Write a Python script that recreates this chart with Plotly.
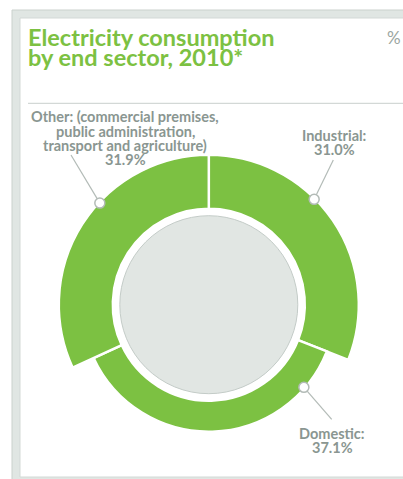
import math
import plotly.graph_objects as go

# ---- data -------------------------------------------------------------
sectors = ["Industrial", "Domestic", "Other"]
shares = [31.0, 37.1, 31.9]          # % of electricity consumption, 2010
label_heads = [
    ["Industrial:"],
    ["Domestic:"],
    ["Other: (commercial premises,", "public administration,",
     "transport and agriculture)"],
]

# ---- layout constants (pixels) -----------------------------------------
W, H = 403, 479
CX, CY = 208.8, 304.7          # ring centre
R_POLAR = 170                  # radial axis range == pixel radius
R_INNER = 96
R_OUTER = {"Industrial": 150, "Domestic": 127, "Other": 150}
R_CORE = 89

GREEN = "#7cc142"
GREY_TXT = "#8a9691"
LEADER = "#b3bbb7"

LABEL_SIZE = 14.5
TITLE_SIZE = 23.5

# where each callout dot sits (degrees clockwise from 12 o'clock)
dot_angle = {"Industrial": 45, "Domestic": 131, "Other": 313}
# leader end points and label centres, pixel coordinates
leader_end = {"Industrial": (333.3, 160), "Domestic": (331.7, 419.3),
              "Other": (71.0, 155.0)}
label_pos = {"Industrial": (334, 140), "Domestic": (332, 438.3),
             "Other": (125, 121.7)}
LINE_STEP = 14.1


def px_to_paper(x, y):
    return x / W, 1 - y / H


def px_to_xy(x, y):
    return x - CX, CY - y


# angular extent of each sector from the shares
widths, centres = [], []
acc = 0.0
for s in shares:
    w = s * 3.6
    widths.append(w)
    centres.append(acc + w / 2)
    acc += w

fig = go.Figure()

# grey core disc
fig.add_trace(go.Barpolar(
    r=[R_CORE], theta=[0], width=[360], base=0,
    marker=dict(color="#e1e6e3", line=dict(color="#c3cbc7", width=1)),
    hoverinfo="skip", showlegend=False,
))

# ring segments
fig.add_trace(go.Barpolar(
    r=[R_OUTER[n] - R_INNER for n in sectors],
    base=[R_INNER] * len(sectors),
    theta=centres, width=widths,
    marker=dict(color=GREEN, line=dict(color="white", width=2.5)),
    text=sectors, hoverinfo="text", showlegend=False,
))

# leader lines (cartesian overlay sharing the same pixel scale)
for n in sectors:
    a = math.radians(dot_angle[n])
    r = R_OUTER[n] - 1
    x0, y0 = r * math.sin(a), r * math.cos(a)
    x1, y1 = px_to_xy(*leader_end[n])
    fig.add_trace(go.Scatter(
        x=[x0, x1], y=[y0, y1], mode="lines",
        line=dict(color=LEADER, width=1.2),
        hoverinfo="skip", showlegend=False,
    ))

# callout dots on the ring edge
fig.add_trace(go.Scatterpolar(
    r=[R_OUTER[n] - 1 for n in sectors],
    theta=[dot_angle[n] for n in sectors],
    mode="markers",
    marker=dict(size=10, color="white", line=dict(color="#b3bbb7", width=1.5)),
    hoverinfo="skip", showlegend=False,
))

annotations = []
for n, s, head in zip(sectors, shares, label_heads):
    lines = head + [f"{s:.1f}%"]
    lx, ly = label_pos[n]
    for i, t in enumerate(lines):
        x, y = px_to_paper(lx, ly + i * LINE_STEP - 0.33 * LABEL_SIZE)
        annotations.append(dict(
            x=x, y=y, xref="paper", yref="paper", text=f"<b>{t}</b>",
            showarrow=False, xanchor="center", yanchor="middle",
            font=dict(family="Lato", size=LABEL_SIZE, color=GREY_TXT),
            borderpad=0,
        ))

# title and unit
for t, base in [("Electricity consumption", 44.5), ("by end sector, 2010*", 65)]:
    x, y = px_to_paper(27, base - 0.33 * TITLE_SIZE)
    annotations.append(dict(
        x=x, y=y, xref="paper", yref="paper", text=f"<b>{t}</b>",
        showarrow=False, xanchor="left", yanchor="middle",
        font=dict(family="Lato", size=TITLE_SIZE, color=GREEN), borderpad=0,
    ))
x, y = px_to_paper(394, 37.5)
annotations.append(dict(
    x=x, y=y, xref="paper", yref="paper", text="%", showarrow=False,
    xanchor="center", yanchor="middle",
    font=dict(family="Lato", size=17, color="#9ba6a1"), borderpad=0,
))


def rect(x0, y0, x1, y1, **kw):
    px0, py0 = px_to_paper(x0, y0)
    px1, py1 = px_to_paper(x1, y1)
    return dict(type="rect", xref="paper", yref="paper",
                x0=px0, y0=py0, x1=px1, y1=py1, layer="below", **kw)


rx0, ry = px_to_paper(28, 103.3)
shapes = [
    rect(12, 10, 420, 490, fillcolor="#e0e6e3",
         line=dict(color="#cad1cd", width=1)),
    rect(20, 18, 420, 477, fillcolor="white",
         line=dict(color="#d3d9d6", width=1)),
    dict(type="line", xref="paper", yref="paper", x0=rx0, x1=1.0,
         y0=ry, y1=ry, line=dict(color="#c9cfcc", width=1), layer="below"),
]

fig.update_layout(
    width=W, height=H,
    margin=dict(l=0, r=0, t=0, b=0),
    paper_bgcolor="white",
    plot_bgcolor="rgba(0,0,0,0)",
    polar=dict(
        domain=dict(x=[(CX - R_POLAR) / W, (CX + R_POLAR) / W],
                    y=[1 - (CY + R_POLAR) / H, 1 - (CY - R_POLAR) / H]),
        bgcolor="rgba(0,0,0,0)",
        radialaxis=dict(range=[0, R_POLAR], visible=False),
        angularaxis=dict(rotation=90, direction="clockwise", visible=False),
        bargap=0,
    ),
    xaxis=dict(range=[-CX, W - CX], domain=[0, 1], visible=False,
               fixedrange=True),
    yaxis=dict(range=[-(H - CY), CY], domain=[0, 1], visible=False,
               fixedrange=True),
    annotations=annotations,
    shapes=shapes,
    showlegend=False,
)

fig.write_html("out.html")
